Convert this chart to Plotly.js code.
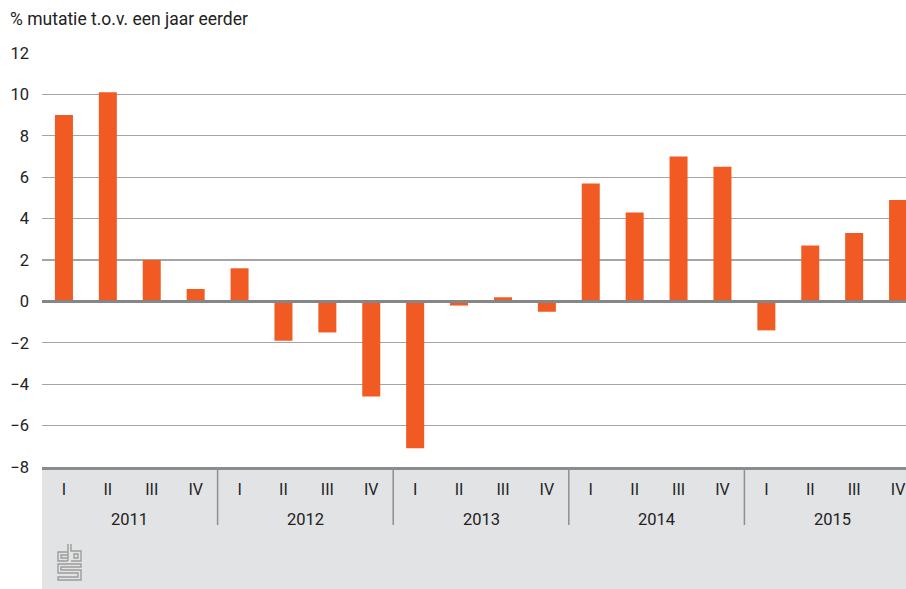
<!DOCTYPE html>
<html>
<head>
<meta charset="utf-8">
<script src="https://cdn.plot.ly/plotly-3.0.1.min.js"></script>
<style>html,body{margin:0;padding:0;background:#fff;}#chart{width:906px;height:589px;}</style>
</head>
<body>
<div id="chart"></div>
<script>
var years = ['2011', '2012', '2013', '2014', '2015'];
var quarters = ['I', 'II', 'III', 'IV'];
var values = [9.0, 10.1, 2.0, 0.6, 1.6, -1.9, -1.5, -4.6, -7.1, -0.2, 0.2, -0.5, 5.7, 4.3, 7.0, 6.5, -1.4, 2.7, 3.3, 4.9];
var yTicks = [-8, -6, -4, -2, 0, 2, 4, 6, 8, 10, 12];

var W = 906, H = 589, L = 42, T = 53, B = 122;
var plotW = W - L, plotH = H - T - B;
function px(x) { return (x - L) / plotW; }
function py(y) { return (H - B - y) / plotH; }
function pathConv(s) {
  return s.replace(/([MLHVZ])([^MLHVZ]*)/g, function (m, cmd, args) {
    args = args.trim();
    if (cmd === 'Z') return 'Z';
    if (cmd === 'H') return 'H' + px(parseFloat(args)).toFixed(5);
    if (cmd === 'V') return 'V' + py(parseFloat(args)).toFixed(5);
    var p = args.split(',');
    return cmd + px(parseFloat(p[0])).toFixed(5) + ',' + py(parseFloat(p[1])).toFixed(5);
  });
}

var xIdx = [], xText = [];
years.forEach(function (y, yi) {
  quarters.forEach(function (q, qi) { xIdx.push(yi * 4 + qi); xText.push(q); });
});

var trace = {
  type: 'bar', x: xIdx, y: values,
  marker: { color: '#f15a22', line: { width: 0 } },
  width: 0.41, hoverinfo: 'y'
};

var shapes = [];
shapes.push({ type: 'rect', xref: 'paper', yref: 'paper', x0: 0, x1: 1, y0: py(H), y1: 0,
  fillcolor: '#e2e3e5', line: { width: 0 }, layer: 'below' });
for (var i = 1; i < years.length; i++) {
  shapes.push({ type: 'line', xref: 'x', yref: 'paper', x0: i * 4 - 0.5, x1: i * 4 - 0.5,
    y0: py(525), y1: 0, line: { color: '#8f8f8f', width: 1.5 } });
}
shapes.push({ type: 'line', xref: 'paper', yref: 'y', x0: 0, x1: 1, y0: 0, y1: 0,
  line: { color: '#858688', width: 3 }, layer: 'above' });
var logo = [
  'M68,552 H58 V561 H68 M68,555 H61 V558 H68',
  'M68,544 V561 M71,544 V551 H81 V561 H71 M74,554 H78 V558 H74 Z',
  'M58,564 H81 V567 H61 V570 H81 V580 H58 V577 H78 V573 H58 Z'
];
logo.forEach(function (p) {
  shapes.push({ type: 'path', xref: 'paper', yref: 'paper', path: pathConv(p),
    line: { color: '#9c9c9c', width: 1.4 } });
});

var annotations = years.map(function (y, yi) {
  return { xref: 'x', yref: 'paper', x: yi * 4 + 1.5, y: py(519), text: y, showarrow: false,
    xanchor: 'center', yanchor: 'middle', font: { size: 16.5, color: '#222' } };
});

var layout = {
  width: W, height: H,
  margin: { l: L, r: 0, t: T, b: B, pad: 0 },
  paper_bgcolor: '#ffffff', plot_bgcolor: '#ffffff',
  font: { family: 'Roboto, "Open Sans", sans-serif', size: 16, color: '#222' },
  showlegend: false,
  title: { text: '% mutatie t.o.v. een jaar eerder', xref: 'container', yref: 'container',
    x: 10 / W, xanchor: 'left', y: 1 - 19 / H, yanchor: 'middle',
    font: { size: 17.5, color: '#222' } },
  xaxis: {
    range: [-0.5, 19.5 - 14 / 43.85], tickvals: xIdx, ticktext: xText,
    showgrid: false, zeroline: false, showline: true, linecolor: '#8a8b8d', linewidth: 3,
    ticks: '', ticklabelstandoff: 6, tickfont: { size: 16, color: '#222' }, fixedrange: true
  },
  yaxis: {
    range: [-8, 12], tickvals: yTicks, showgrid: true, gridcolor: '#a5a5a5', gridwidth: 1.2,
    zeroline: false, showline: false, ticks: '', ticklabelstandoff: 12,
    tickfont: { size: 16.5, color: '#222' }, fixedrange: true
  },
  shapes: shapes, annotations: annotations
};

Plotly.newPlot('chart', [trace], layout, { displayModeBar: false, staticPlot: true });
</script>
</body>
</html>
